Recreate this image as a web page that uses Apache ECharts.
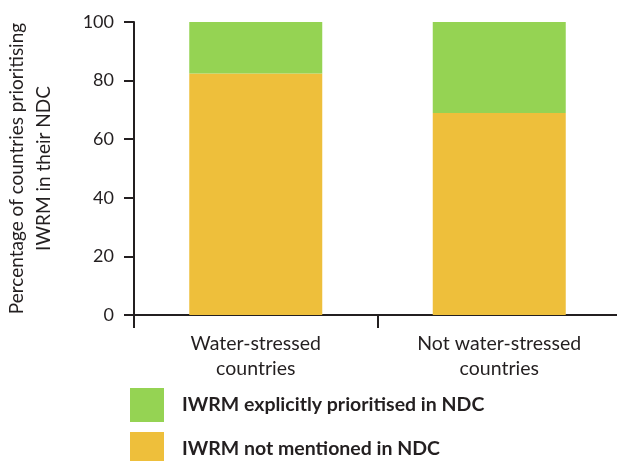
<!DOCTYPE html>
<html>
<head>
<meta charset="utf-8">
<script src="https://cdn.jsdelivr.net/npm/echarts@6/dist/echarts.min.js"></script>
<style>
  html, body { margin: 0; padding: 0; background: #ffffff; }
  #chart { width: 617px; height: 461px; }
</style>
</head>
<body>
<div id="chart"></div>
<script>
// Country groups on the x axis
const categories = ['Water-stressed\ncountries', 'Not water-stressed\ncountries'];

// Share of countries (%) in each group
const notMentioned = [82.4, 68.9];
const explicitlyPrioritised = [17.6, 31.3];

// Y-axis tick settings
const yTicks = { min: 0, max: 100, interval: 20 };

const seriesNames = ['IWRM explicitly prioritised in NDC', 'IWRM not mentioned in NDC'];
const colors = { prioritised: '#95d353', notMentioned: '#eebf3b' };

const ink = '#231f20';
const font = 'Lato';

// One legend block per series so the two keys stack vertically
function legendBlock(name, top) {
  return {
    orient: 'vertical',
    left: 130,
    top: top,
    padding: 0,
    itemWidth: 34,
    itemHeight: 34,
    icon: 'rect',
    data: [name],
    selectedMode: false,
    textStyle: { fontFamily: font, fontSize: 19.5, fontWeight: 'bold', color: ink, padding: [3, 0, 0, 13] }
  };
}

const chart = echarts.init(document.getElementById('chart'), null, { renderer: 'canvas' });

chart.setOption({
  animation: false,
  textStyle: { fontFamily: font, color: ink },
  grid: { left: 134, right: -4, top: 22, bottom: 146, containLabel: false, outerBoundsMode: 'none' },
  legend: [legendBlock(seriesNames[0], 388), legendBlock(seriesNames[1], 432)],
  xAxis: {
    type: 'category',
    data: categories,
    axisLine: { lineStyle: { color: ink, width: 2 } },
    axisTick: { show: true, length: 13, inside: false, lineStyle: { color: ink, width: 2 } },
    axisLabel: { fontFamily: font, fontSize: 19.5, color: ink, margin: 16, lineHeight: 25 }
  },
  yAxis: {
    type: 'value',
    min: yTicks.min,
    max: yTicks.max,
    interval: yTicks.interval,
    name: 'Percentage of countries prioritising\nIWRM in their NDC',
    nameLocation: 'middle',
    nameRotate: 90,
    nameGap: 77,
    nameTextStyle: { fontFamily: font, fontSize: 19, color: ink, lineHeight: 27 },
    splitLine: { show: false },
    axisLine: { show: true, lineStyle: { color: ink, width: 2 } },
    axisTick: { show: true, length: 10, inside: false, lineStyle: { color: ink, width: 2 } },
    axisLabel: { fontFamily: font, fontSize: 18, color: ink, margin: 20 }
  },
  series: [
    {
      name: seriesNames[1],
      type: 'bar',
      stack: 'share',
      data: notMentioned,
      barWidth: 133,
      itemStyle: { color: colors.notMentioned }
    },
    {
      name: seriesNames[0],
      type: 'bar',
      stack: 'share',
      data: explicitlyPrioritised,
      barWidth: 133,
      itemStyle: { color: colors.prioritised }
    }
  ]
});
</script>
</body>
</html>
